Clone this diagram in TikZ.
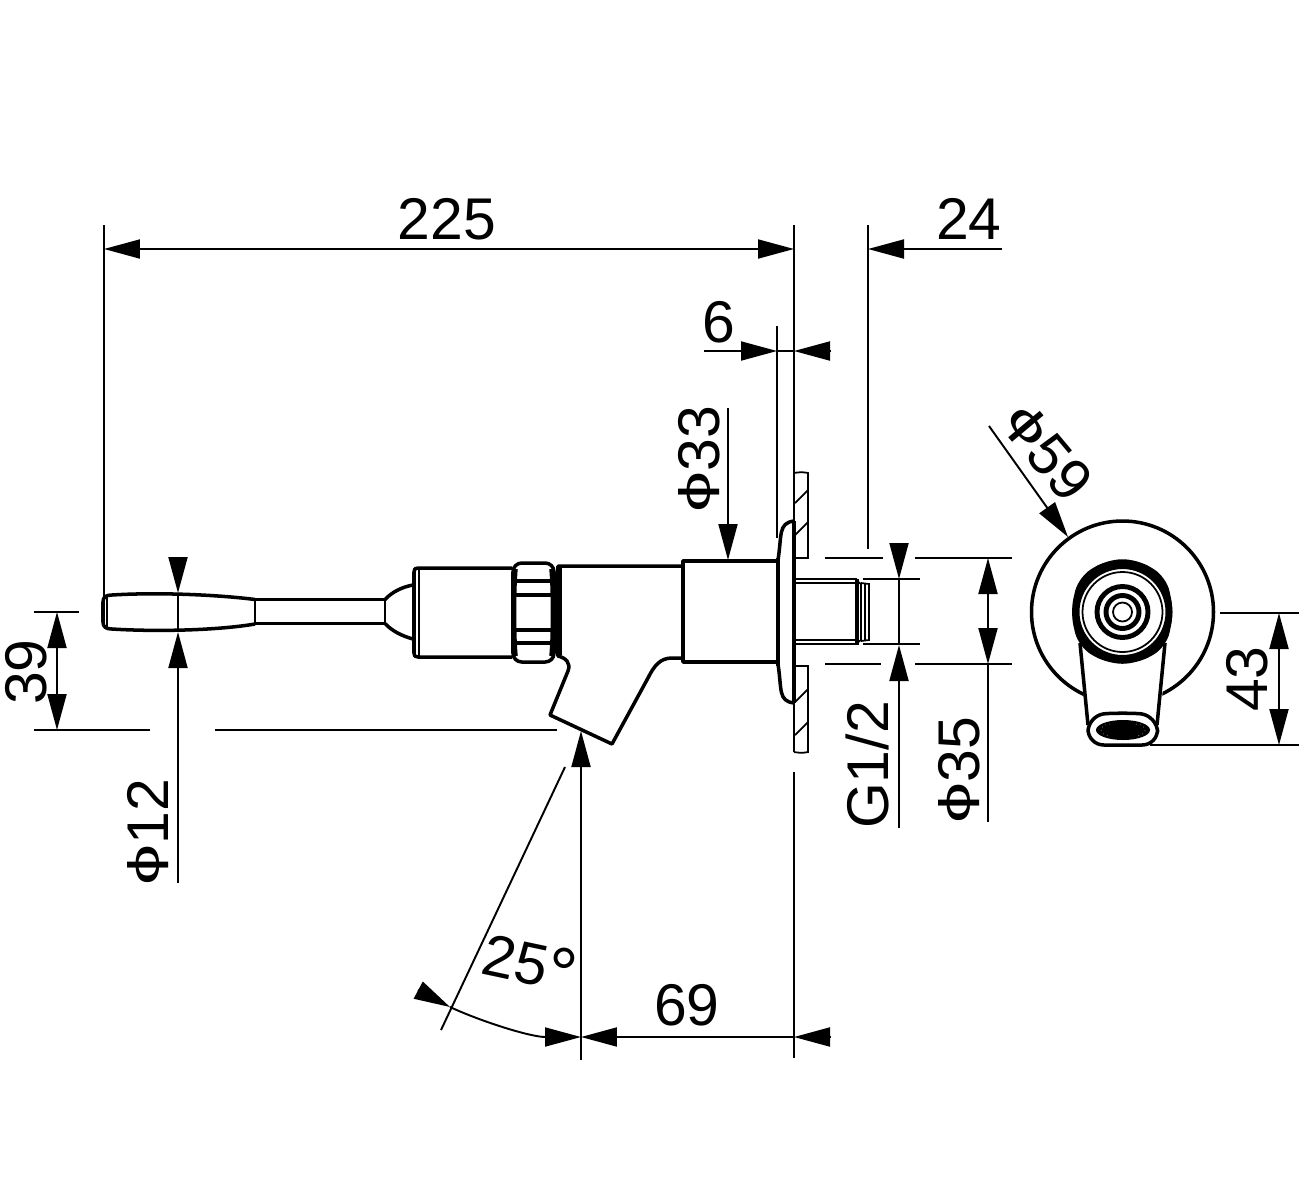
\documentclass[tikz,border=0pt]{standalone}
\usepackage{fontspec}
\setmainfont{Liberation Sans}
\usetikzlibrary{arrows.meta}
\tikzset{
  dimline/.style={line width=1.1pt},
  outline/.style={line width=2pt,line join=round},
  thinline/.style={line width=1pt},
  dimhead/.style={-{Triangle[length=0.72cm,width=0.38cm]}},
  dimtext/.style={font=\fontsize{33.5}{33.5}\selectfont,inner sep=0pt},
}
\newcommand{\dia}{\raisebox{0.16em}{\scalebox{1.25}[0.75]{ϕ}}}
\newcommand{\degr}{\raisebox{-0.15em}{\scalebox{1.25}{°}}}
\begin{document}
\begin{tikzpicture}[x=0.02cm,y=-0.02cm]
    \useasboundingbox (0,0) rectangle (1299,1181);

    % handle
    \draw[outline] (255,599.5) .. controls (220,595) and (160,592) .. (112,595) .. controls (106,595) and (103,597) .. (103,602)
       -- (103,622) .. controls (103,627) and (106,629) .. (112,629) .. controls (160,632) and (220,630) .. (255,624);
    \draw[thinline] (107,596) -- (107,628);
    \draw[thinline] (255,599.5) -- (255,624);
    \draw[outline] (255,599.5) -- (385,599.5) (255,623.5) -- (385,623.5);
    \draw[thinline] (385,599.5) -- (385,623.5);
    \draw[outline] (385,599.5) .. controls (392,592) and (402,587) .. (413,585);
    \draw[outline] (385,623.5) .. controls (392,631) and (402,636) .. (413,639);

    % nut
    \draw[outline] (512,568) -- (418,568) .. controls (415,568) and (414,569) .. (414,572) -- (414,653) .. controls (414,656) and (415,657) .. (418,657) -- (512,657);
    \draw[thinline] (419,569) -- (419,656);
    \draw[outline,rounded corners=5pt] (513,563) rectangle (554,662);
    \draw[outline] (516,569) .. controls (514,590) and (514,635) .. (516,656);
    \draw[outline] (551,569) .. controls (553,590) and (553,635) .. (551,656);
    \foreach \yy in {581,595,630,643}{\draw[outline] (515,\yy) -- (552,\yy);}

    % body
    \draw[outline] (683,566) -- (558,566) -- (558,656) .. controls (566,658) and (571,663) .. (568,671) -- (550,715) -- (612,744) -- (648,678) .. controls (654,666) and (660,658) .. (672,658) -- (683,658);
    \draw[thinline] (561,567) -- (561,655);
    \draw[outline] (683,561) rectangle (778,662);

    % flange and wall
    \draw[outline] (778,560) .. controls (782,535) and (778,523) .. (794,521);
    \draw[outline] (778,664) .. controls (782,690) and (778,701) .. (794,703);
    \draw[outline] (778,558) -- (778,666);
    \draw[line width=2.4pt] (794,521) -- (794,703);
    \draw[thinline] (794,473) .. controls (799,472) and (804,472) .. (808,473) -- (808,558) -- (794,558);
    \draw[thinline] (794,752) .. controls (799,753) and (804,753) .. (808,752) -- (808,666) -- (794,666);
    \draw[thinline] (794,473) -- (794,752);
    \foreach \yy in {503,535,702,735}{\draw[thinline] (795,\yy) -- (808,\yy-13);}

    % stub
    \draw[line width=1.4pt] (794,579) -- (857,579) (794,640) -- (857,640) (794,644) -- (857,644);
    \draw[line width=0.7pt] (794,583) -- (857,583);
    \draw[outline] (857,579) -- (857,645);
    \draw[thinline] (857,581) -- (861,584) -- (861,640) -- (857,643);
    \draw[thinline] (861,583) -- (869,584) -- (869,640) -- (861,641);
    \draw[thinline] (865,584) -- (865,640);

    % end view
    \coordinate (C) at (1122.5,612);
    \draw[outline] (C) circle (91*0.02cm);
    \fill[white] (1081,650) -- (1165,650) -- (1160,735) -- (1086,735) -- cycle;
    \draw[outline] (1080,643) -- (1088,725) (1165,643) -- (1157,725);
    \draw[outline,rounded corners=9pt] (1088,716) .. controls (1110,713) and (1135,713) .. (1157,716) -- (1158,745) -- (1088,745) -- cycle;
    \fill (1123,730) ellipse (27*0.02cm and 10*0.02cm);
    \draw[white,line width=0.3pt,dotted] (1110,724) .. controls (1098,725) and (1098,735) .. (1110,736);
    \draw[white,line width=0.3pt,dotted] (1136,724) .. controls (1148,725) and (1148,735) .. (1136,736);
    \fill[white] (C) circle (48*0.02cm);
    \draw[outline,rounded corners=8pt] (1108,561) -- (1137,561) -- (1165,578) -- (1172,612) -- (1165,646) -- (1137,662) -- (1108,662) -- (1080,646) -- (1072,612) -- (1080,578) -- cycle;
    \draw[line width=4pt] (C) circle (46.5*0.02cm);
    \draw[thinline] (C) circle (40*0.02cm);
    \draw[line width=2.8pt] (C) circle (25.5*0.02cm);
    \draw[line width=2.8pt] (C) circle (16.5*0.02cm);
    \draw[thinline] (C) circle (9.5*0.02cm);

    % extension lines
    \draw[dimline] (104,225) -- (104,600);
    \draw[dimline] (794,225) -- (794,473);
    \draw[dimline] (794,772) -- (794,1058);
    \draw[dimline] (868,225) -- (868,549);
    \draw[dimline] (777,326) -- (777,538);
    \draw[dimline] (34,612) -- (79,612);
    \draw[dimline] (34,730) -- (150,730) (215,730) -- (557,730);
    \draw[dimline] (1220,613) -- (1299,613);
    \draw[dimline] (1150,745) -- (1299,745);
    \draw[dimline] (825,558) -- (883,558) (915,558) -- (1012,558);
    \draw[dimline] (825,664) -- (881,664) (915,664) -- (1012,664);
    \draw[dimline] (863,579) -- (920,579) (863,644) -- (920,644);

    % 225 and 24
    \draw[dimline,dimhead] (440,249) -- (104,249);
    \draw[dimline,dimhead] (440,249) -- (794,249);
    \draw[dimline,dimhead] (1002,249) -- (868,249);
    \node[dimtext] (L225) at (447,219) {225};
    \node[dimtext] (L24) at (969,219) {24};

    % 6
    \draw[dimline,dimhead] (704,351) -- (777,351);
    \draw[dimline,dimhead] (830,351) -- (794,351);
    \draw[dimline] (777,351) -- (794,351);
    \node[dimtext] (L6) at (719,322) {6};

    % 33
    \draw[dimline,dimhead] (728,408) -- (728,560);
    \node[dimtext,rotate=90] (L33) at (699,459) {\dia33};

    % 59
    \coordinate (T59) at (1068,537);
    \draw[dimline,dimhead] (989,426) -- (T59);
    \node[dimtext,rotate=-50] (L59) at (1047,452) {\dia59};

    % 43
    \draw[dimline,dimhead] (1279,680) -- (1279,613);
    \draw[dimline,dimhead] (1279,680) -- (1279,745);
    \node[dimtext,rotate=90] (L43) at (1247,679) {43};

    % 39
    \draw[dimline,dimhead] (57,670) -- (57,612);
    \draw[dimline,dimhead] (57,670) -- (57,730);
    \node[dimtext,rotate=90] (L39) at (26,672) {39};

    % 12
    \draw[dimline,dimhead] (178,558) -- (178,593);
    \draw[dimline,dimhead] (178,883) -- (178,632);
    \draw[dimline] (178,593) -- (178,632);
    \node[dimtext,rotate=90] (L12) at (148,832) {\dia12};

    % G1/2
    \draw[dimline,dimhead] (899,545) -- (899,579);
    \draw[dimline] (899,579) -- (899,645);
    \draw[dimline,dimhead] (899,828) -- (899,645);
    \node[dimtext,rotate=90] (LG) at (867,765) {G1/2};

    % 35
    \draw[dimline,dimhead] (988,610) -- (988,558);
    \draw[dimline,dimhead] (988,610) -- (988,664);
    \draw[dimline] (988,664) -- (988,822);
    \node[dimtext,rotate=90] (L35) at (959,770) {\dia35};

    % 25 degrees and 69
    \draw[dimline,dimhead] (581,1060) -- (581,731);
    \draw[dimline] (565,767) -- (441,1030);
    \draw[dimline,dimhead] (418,990) -- (450,1007);
    \draw[dimline,dimhead] (450,1007) .. controls (480,1021) and (530,1037) .. (581,1037);
    \draw[dimline,dimhead] (700,1037) -- (581,1037);
    \draw[dimline,dimhead] (830,1037) -- (794,1037);
    \draw[dimline] (700,1037) -- (794,1037);
    \node[dimtext,rotate=-12] (L25) at (529,967) {25\degr};
    \node[dimtext] (L69) at (687,1005) {69};
\end{tikzpicture}
\end{document}
